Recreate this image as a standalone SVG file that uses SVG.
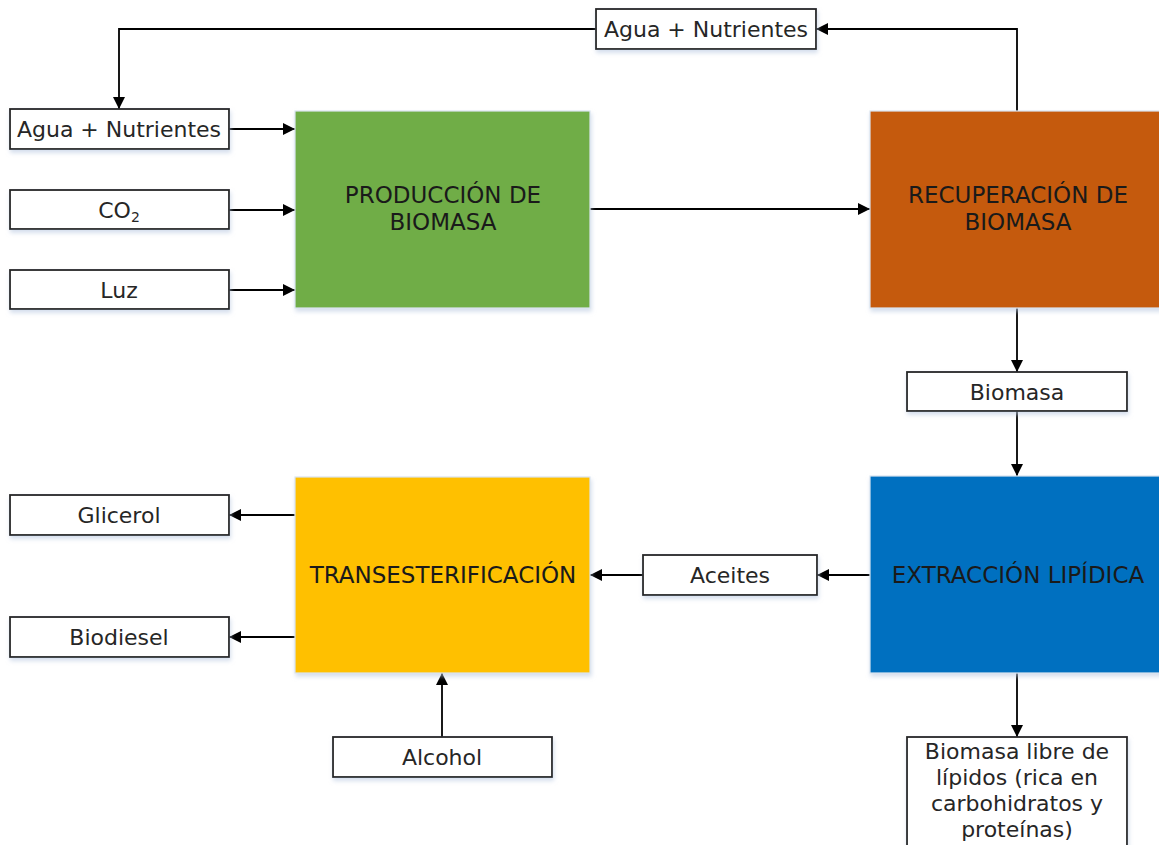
<svg xmlns="http://www.w3.org/2000/svg" width="1159" height="845" viewBox="0 0 1159 845">
<defs>
<marker id="arr" markerUnits="userSpaceOnUse" markerWidth="12" markerHeight="12" refX="12" refY="6" orient="auto">
<path d="M0,0 L12,6 L0,12 z" fill="#000"/>
</marker>
<filter id="sh" x="-10%" y="-10%" width="130%" height="140%">
<feDropShadow dx="1" dy="3" stdDeviation="2" flood-color="#b8c8e0" flood-opacity="0.6"/>
</filter>
</defs>
<style>
.box{fill:#fff;stroke:#262626;stroke-width:1.8;filter:url(#sh)}
.t{font-family:"DejaVu Sans",sans-serif;font-size:22px;fill:#262626;text-anchor:middle}
.big{font-family:"DejaVu Sans",sans-serif;font-size:23px;fill:#1a1a1a;text-anchor:middle}
.c{fill:none;stroke:#000;stroke-width:1.8;marker-end:url(#arr)}
.p{stroke:#dbe5f1;stroke-width:1.2;filter:url(#sh)}
</style>
<rect width="1159" height="845" fill="#fff"/>

<g id="connectors">
<path class="c" d="M229,129 H295"/>
<path class="c" d="M229,210 H295"/>
<path class="c" d="M229,290 H295"/>
<path class="c" d="M590,209 H870"/>
<path class="c" d="M1017,111 V29 H816"/>
<path class="c" d="M596,29 H119 V109"/>
<path class="c" d="M1017,308 V372"/>
<path class="c" d="M1017,411 V476"/>
<path class="c" d="M870,575 H817"/>
<path class="c" d="M643,575 H590"/>
<path class="c" d="M295,515 H229"/>
<path class="c" d="M295,637 H229"/>
<path class="c" d="M442,737 V673"/>
<path class="c" d="M1017,673 V737"/>
</g>

<g id="produccion">
<rect class="p" x="295" y="111" width="295" height="197" fill="#70ad47"/>
<text class="big" x="443" y="203">PRODUCCIÓN DE</text>
<text class="big" x="443" y="230">BIOMASA</text>
</g>
<g id="recuperacion">
<rect class="p" x="870" y="111" width="292" height="197" fill="#c55a11"/>
<text class="big" x="1018" y="203">RECUPERACIÓN DE</text>
<text class="big" x="1018" y="230">BIOMASA</text>
</g>
<g id="extraccion">
<rect class="p" x="870" y="476" width="292" height="197" fill="#0070c0"/>
<text class="big" x="1018" y="583">EXTRACCIÓN LIPÍDICA</text>
</g>
<g id="transesterificacion">
<rect class="p" x="295" y="477" width="295" height="196" fill="#ffc000"/>
<text class="big" x="443" y="583">TRANSESTERIFICACIÓN</text>
</g>

<g id="agua-top">
<rect class="box" x="596" y="9" width="220" height="40"/>
<text class="t" x="706" y="37">Agua + Nutrientes</text>
</g>
<g id="agua-left">
<rect class="box" x="10" y="109" width="219" height="40"/>
<text class="t" x="119" y="137">Agua + Nutrientes</text>
</g>
<g id="co2">
<rect class="box" x="10" y="190" width="219" height="39"/>
<text class="t" x="119" y="218">CO<tspan font-size="14" dy="4">2</tspan></text>
</g>
<g id="luz">
<rect class="box" x="10" y="270" width="219" height="39"/>
<text class="t" x="119" y="298">Luz</text>
</g>
<g id="biomasa">
<rect class="box" x="907" y="372" width="220" height="39"/>
<text class="t" x="1017" y="400">Biomasa</text>
</g>
<g id="aceites">
<rect class="box" x="643" y="555" width="174" height="40"/>
<text class="t" x="730" y="583">Aceites</text>
</g>
<g id="glicerol">
<rect class="box" x="10" y="495" width="219" height="40"/>
<text class="t" x="119" y="523">Glicerol</text>
</g>
<g id="biodiesel">
<rect class="box" x="10" y="617" width="219" height="40"/>
<text class="t" x="119" y="645">Biodiesel</text>
</g>
<g id="alcohol">
<rect class="box" x="333" y="737" width="219" height="40"/>
<text class="t" x="442" y="765">Alcohol</text>
</g>
<g id="biomasa-libre">
<rect class="box" x="907" y="737" width="220" height="120"/>
<text class="t" x="1017" y="759">Biomasa libre de</text>
<text class="t" x="1017" y="785">lípidos (rica en</text>
<text class="t" x="1017" y="811">carbohidratos y</text>
<text class="t" x="1017" y="837">proteínas)</text>
</g>
</svg>
